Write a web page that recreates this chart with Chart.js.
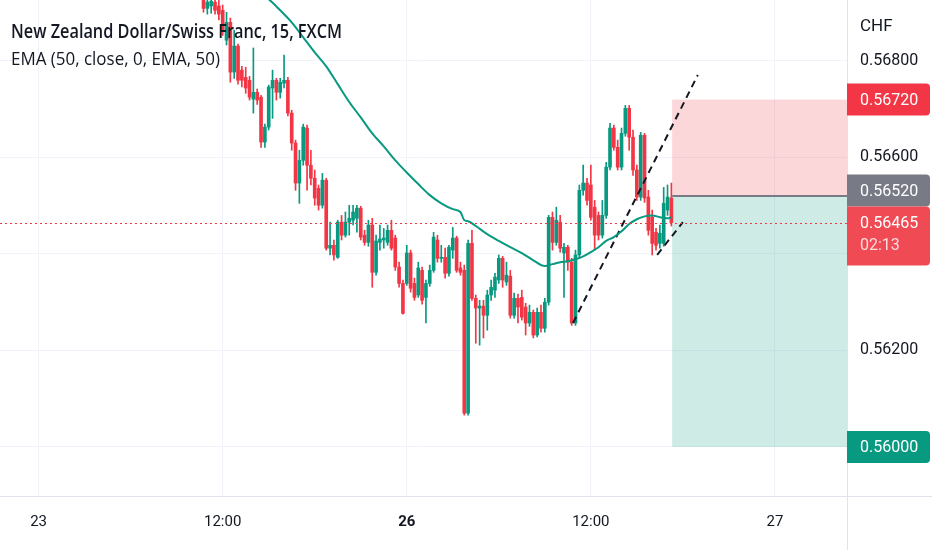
<!DOCTYPE html>
<html>
<head>
<meta charset="utf-8">
<script src="https://cdn.jsdelivr.net/npm/chart.js@4.4.1/dist/chart.umd.min.js"></script>
<style>
  html, body { margin: 0; padding: 0; background: #fff; }
  #wrap { position: relative; width: 932px; height: 550px; overflow: hidden; }
  #nzdchf { position: absolute; left: 0; top: 0; }
  .legend { position: absolute; white-space: nowrap; color: #131722; transform-origin: 0 0; pointer-events: none; }
  .title { left: 11px; top: 21px; font: 600 20px/20px "Open Sans", sans-serif; }
  .ema { left: 11px; top: 48px; font: 400 19px/20px "Open Sans", sans-serif; }
  .ccy { left: 860px; top: 15px; font: 400 17px/20px Roboto, sans-serif; }
</style>
</head>
<body>
<div id="wrap">
  <canvas id="nzdchf" width="932" height="550" style="width:932px;height:550px"></canvas>
  <div class="legend title" data-fit="331">New Zealand Dollar/Swiss Franc, 15, FXCM</div>
  <div class="legend ema" data-fit="209">EMA (50, close, 0, EMA, 50)</div>
  <div class="legend ccy">CHF</div>
</div>
<script>
// 15 min candles, bar index 0 = "23" 00:00
const firstBar = 43;

const opens = [
  0.56926, 0.56909, 0.56914, 0.56922, 0.56914, 0.56905, 0.56843, 0.56880, 0.56777, 0.56831,
  0.56781, 0.56766, 0.56760, 0.56721, 0.56735, 0.56725, 0.56632, 0.56663, 0.56744, 0.56760,
  0.56735, 0.56754, 0.56760, 0.56692, 0.56630, 0.56547, 0.56594, 0.56661, 0.56584, 0.56557,
  0.56536, 0.56501, 0.56553, 0.56412, 0.56418, 0.56393, 0.56466, 0.56439, 0.56466, 0.56470,
  0.56474, 0.56495, 0.56439, 0.56424, 0.56460, 0.56362, 0.56424, 0.56429, 0.56424, 0.56449,
  0.56433, 0.56373, 0.56339, 0.56339, 0.56402, 0.56339, 0.56315, 0.56366, 0.56310, 0.56339,
  0.56366, 0.56429, 0.56391, 0.56393, 0.56360, 0.56408, 0.56433, 0.56371, 0.56366, 0.56070,
  0.56422, 0.56308, 0.56288, 0.56292, 0.56273, 0.56315, 0.56325, 0.56346, 0.56391, 0.56342,
  0.56354, 0.56273, 0.56308, 0.56310, 0.56290, 0.56257, 0.56279, 0.56232, 0.56279, 0.56246,
  0.56300, 0.56476, 0.56424, 0.56466, 0.56402, 0.56414, 0.56383, 0.56257, 0.56398, 0.56532,
  0.56547, 0.56543, 0.56497, 0.56480, 0.56439, 0.56480, 0.56580, 0.56661, 0.56621, 0.56580,
  0.56650, 0.56702, 0.56642, 0.56574, 0.56518, 0.56646, 0.56518, 0.56476, 0.56445, 0.56422,
  0.56422, 0.56491, 0.56516
];
const highs = [
  0.56934, 0.56930, 0.56932, 0.56930, 0.56926, 0.56916, 0.56901, 0.56889, 0.56864, 0.56835,
  0.56789, 0.56787, 0.56768, 0.56827, 0.56742, 0.56729, 0.56669, 0.56750, 0.56781, 0.56764,
  0.56764, 0.56812, 0.56766, 0.56698, 0.56636, 0.56615, 0.56669, 0.56667, 0.56615, 0.56574,
  0.56543, 0.56567, 0.56557, 0.56466, 0.56429, 0.56470, 0.56480, 0.56487, 0.56501, 0.56501,
  0.56501, 0.56499, 0.56449, 0.56470, 0.56474, 0.56439, 0.56460, 0.56453, 0.56460, 0.56470,
  0.56439, 0.56383, 0.56346, 0.56418, 0.56408, 0.56350, 0.56383, 0.56373, 0.56346, 0.56377,
  0.56445, 0.56439, 0.56418, 0.56412, 0.56418, 0.56455, 0.56437, 0.56383, 0.56377, 0.56429,
  0.56449, 0.56315, 0.56304, 0.56304, 0.56325, 0.56346, 0.56360, 0.56398, 0.56395, 0.56383,
  0.56366, 0.56319, 0.56317, 0.56325, 0.56298, 0.56294, 0.56284, 0.56288, 0.56294, 0.56308,
  0.56480, 0.56487, 0.56497, 0.56480, 0.56422, 0.56418, 0.56391, 0.56408, 0.56543, 0.56584,
  0.56557, 0.56584, 0.56511, 0.56487, 0.56511, 0.56590, 0.56671, 0.56667, 0.56636, 0.56661,
  0.56708, 0.56708, 0.56657, 0.56584, 0.56652, 0.56650, 0.56532, 0.56491, 0.56453, 0.56460,
  0.56538, 0.56543, 0.56547
];
const lows = [
  0.56901, 0.56897, 0.56899, 0.56897, 0.56885, 0.56853, 0.56833, 0.56756, 0.56764, 0.56752,
  0.56746, 0.56733, 0.56719, 0.56692, 0.56710, 0.56621, 0.56621, 0.56657, 0.56681, 0.56719,
  0.56723, 0.56744, 0.56686, 0.56615, 0.56532, 0.56505, 0.56584, 0.56532, 0.56543, 0.56501,
  0.56491, 0.56495, 0.56408, 0.56398, 0.56387, 0.56391, 0.56429, 0.56435, 0.56439, 0.56460,
  0.56445, 0.56429, 0.56418, 0.56416, 0.56331, 0.56356, 0.56408, 0.56412, 0.56418, 0.56408,
  0.56366, 0.56331, 0.56275, 0.56335, 0.56321, 0.56304, 0.56310, 0.56296, 0.56257, 0.56333,
  0.56362, 0.56383, 0.56383, 0.56350, 0.56354, 0.56391, 0.56362, 0.56356, 0.56066, 0.56066,
  0.56304, 0.56215, 0.56211, 0.56226, 0.56242, 0.56304, 0.56310, 0.56339, 0.56331, 0.56335,
  0.56267, 0.56267, 0.56257, 0.56263, 0.56232, 0.56250, 0.56226, 0.56228, 0.56238, 0.56238,
  0.56294, 0.56408, 0.56418, 0.56404, 0.56310, 0.56366, 0.56252, 0.56252, 0.56391, 0.56522,
  0.56501, 0.56470, 0.56408, 0.56429, 0.56433, 0.56474, 0.56574, 0.56615, 0.56574, 0.56574,
  0.56644, 0.56615, 0.56563, 0.56511, 0.56511, 0.56507, 0.56439, 0.56398, 0.56408, 0.56412,
  0.56416, 0.56480, 0.56458
];
const closes = [
  0.56909, 0.56922, 0.56924, 0.56905, 0.56897, 0.56864, 0.56880, 0.56777, 0.56831, 0.56760,
  0.56760, 0.56744, 0.56725, 0.56735, 0.56719, 0.56632, 0.56663, 0.56746, 0.56760, 0.56735,
  0.56756, 0.56760, 0.56692, 0.56630, 0.56547, 0.56594, 0.56663, 0.56584, 0.56557, 0.56516,
  0.56501, 0.56553, 0.56412, 0.56418, 0.56398, 0.56466, 0.56439, 0.56466, 0.56474, 0.56487,
  0.56495, 0.56435, 0.56424, 0.56460, 0.56362, 0.56427, 0.56431, 0.56433, 0.56449, 0.56412,
  0.56373, 0.56339, 0.56277, 0.56402, 0.56329, 0.56310, 0.56371, 0.56304, 0.56339, 0.56366,
  0.56435, 0.56391, 0.56393, 0.56360, 0.56414, 0.56433, 0.56366, 0.56362, 0.56070, 0.56422,
  0.56308, 0.56288, 0.56292, 0.56273, 0.56315, 0.56331, 0.56352, 0.56391, 0.56346, 0.56356,
  0.56273, 0.56308, 0.56290, 0.56269, 0.56257, 0.56279, 0.56232, 0.56279, 0.56246, 0.56300,
  0.56476, 0.56424, 0.56470, 0.56412, 0.56414, 0.56383, 0.56257, 0.56398, 0.56532, 0.56547,
  0.56511, 0.56476, 0.56439, 0.56439, 0.56480, 0.56580, 0.56661, 0.56621, 0.56580, 0.56650,
  0.56702, 0.56642, 0.56574, 0.56518, 0.56646, 0.56516, 0.56449, 0.56422, 0.56418, 0.56443,
  0.56505, 0.56518, 0.56465
];

// EMA 50
const emaBars = [57, 60, 63, 66, 69, 72, 75, 78, 81, 84, 87, 90, 93, 96, 99, 102, 105, 108,
  110, 111, 112, 114, 117, 120, 123, 126, 129, 132, 134, 136, 138, 140, 142, 144, 146, 148,
  150, 152, 154, 156, 158, 160, 162, 164, 165];
const emaValues = [0.56943, 0.56928, 0.56905, 0.56880, 0.56849, 0.56818, 0.56789, 0.56752,
  0.56715, 0.56683, 0.56650, 0.56623, 0.56594, 0.56569, 0.56545, 0.56522, 0.56505, 0.56493,
  0.56487, 0.56470, 0.56468, 0.56458, 0.56441, 0.56427, 0.56414, 0.56402, 0.56387, 0.56375,
  0.56379, 0.56383, 0.56385, 0.56389, 0.56395, 0.56404, 0.56414, 0.56427, 0.56435, 0.56447,
  0.56462, 0.56472, 0.56478, 0.56480, 0.56476, 0.56474, 0.56476];

// drawn trend lines
const trendUpBars = [139.35, 171.9];
const trendUpPrices = [0.56257, 0.56771];
const trendLowBars = [161.3, 168.0];
const trendLowPrices = [0.56398, 0.56466];

// short position tool
const positionStartBar = 165.2;
const positionEndBar = 215;
const positionStop = 0.5672;
const positionEntry = 0.5652;
const positionTarget = 0.5600;
const lastPrice = 0.56465;
const countdown = "02:13";

const timeTicks = [0, 48, 96, 144, 192];
const timeLabels = ["23", "12:00", "26", "12:00", "27"];
const priceTicks = [0.560, 0.562, 0.564, 0.566, 0.568];

const UP = "#089981";
const DOWN = "#f23645";
const FONT = "Roboto, sans-serif";

const candleColor = closes.map((c, k) => (c >= opens[k] ? UP : DOWN));
const wickData = lows.map((l, k) => ({ x: firstBar + k, y: [l, highs[k]] }));
const bodyData = opens.map((o, k) => ({ x: firstBar + k, y: [o, closes[k]] }));
const emaData = emaBars.map((b, k) => ({ x: b, y: emaValues[k] }));
const trendUp = trendUpBars.map((b, k) => ({ x: b, y: trendUpPrices[k] }));
const trendLow = trendLowBars.map((b, k) => ({ x: b, y: trendLowPrices[k] }));

function tag(ctx, left, top, w, h, color) {
  ctx.fillStyle = color;
  ctx.beginPath();
  ctx.roundRect(left, top, w, h, [0, 4, 4, 0]);
  ctx.fill();
}

const overlay = {
  id: "overlay",
  beforeDatasetsDraw(chart) {
    const { ctx, chartArea: a, scales: { x, y } } = chart;
    const l = x.getPixelForValue(positionStartBar);
    const r = x.getPixelForValue(positionEndBar);
    const ys = y.getPixelForValue(positionStop);
    const ye = y.getPixelForValue(positionEntry);
    const yt = y.getPixelForValue(positionTarget);
    ctx.save();
    ctx.beginPath();
    ctx.rect(a.left, a.top, a.right - a.left, a.bottom - a.top);
    ctx.clip();
    ctx.fillStyle = "rgba(242,54,69,0.2)";
    ctx.fillRect(l, ys, r - l, ye - ys);
    ctx.fillStyle = "rgba(8,153,129,0.2)";
    ctx.fillRect(l, ye, r - l, yt - ye);
    ctx.restore();
  },
  afterDatasetsDraw(chart) {
    const { ctx, chartArea: a, scales: { x, y } } = chart;
    const l = x.getPixelForValue(positionStartBar);
    const ye = y.getPixelForValue(positionEntry);
    const yp = Math.round(y.getPixelForValue(lastPrice)) + 0.5;
    ctx.save();
    ctx.strokeStyle = "#787b86";
    ctx.lineWidth = 2;
    ctx.beginPath();
    ctx.moveTo(l, ye);
    ctx.lineTo(a.right, ye);
    ctx.stroke();
    ctx.strokeStyle = DOWN;
    ctx.lineWidth = 1;
    ctx.setLineDash([2, 3]);
    ctx.beginPath();
    ctx.moveTo(a.left, yp);
    ctx.lineTo(a.right, yp);
    ctx.stroke();
    ctx.restore();
  },
  afterDraw(chart) {
    const { ctx, chartArea: a, scales: { y }, width, height } = chart;
    ctx.save();
    ctx.strokeStyle = "#e0e3eb";
    ctx.lineWidth = 1;
    ctx.beginPath();
    ctx.moveTo(a.right + 0.5, 0);
    ctx.lineTo(a.right + 0.5, height);
    ctx.moveTo(0, a.bottom + 0.5);
    ctx.lineTo(width, a.bottom + 0.5);
    ctx.stroke();

    const tl = a.right;
    const tw = width - 2 - a.right;
    const th = 32;
    const tx = a.right + 13;
    ctx.font = "16px " + FONT;
    ctx.textBaseline = "middle";
    ctx.textAlign = "left";

    const yLast = y.getPixelForValue(lastPrice);
    const lastTop = yLast - th / 2;
    const lastH = th + 27;

    const yStop = y.getPixelForValue(positionStop);
    tag(ctx, tl, yStop - th / 2, tw, th, DOWN);
    ctx.fillStyle = "#fff";
    ctx.fillText(positionStop.toFixed(5), tx, yStop + 1);

    const yEntry = y.getPixelForValue(positionEntry);
    const entryBottom = Math.min(yEntry + th / 2, lastTop);
    tag(ctx, tl, entryBottom - th, tw, th, "#787b86");
    ctx.fillStyle = "#fff";
    ctx.fillText(positionEntry.toFixed(5), tx, entryBottom - th / 2 + 1);

    tag(ctx, tl, lastTop, tw, lastH, "#f04b55");
    ctx.fillStyle = "#fff";
    ctx.fillText(lastPrice.toFixed(5), tx, yLast + 1);
    ctx.fillStyle = "rgba(255,255,255,0.8)";
    ctx.fillText(countdown, tx, yLast + 23);

    const yTarget = y.getPixelForValue(positionTarget);
    tag(ctx, tl, yTarget - th / 2, tw, th, UP);
    ctx.fillStyle = "#fff";
    ctx.fillText(positionTarget.toFixed(5), tx, yTarget + 1);
    ctx.restore();
  }
};

const chart = new Chart(document.getElementById("nzdchf"), {
  type: "bar",
  data: {
    datasets: [
      {
        type: "line",
        data: emaData,
        borderColor: "#089981",
        borderWidth: 2,
        pointRadius: 0,
        tension: 0.4,
        cubicInterpolationMode: "monotone",
        order: 0,
      },
      {
        type: "line",
        data: trendUp,
        borderColor: "#131722",
        borderWidth: 2,
        borderDash: [7, 5],
        pointRadius: 0,
        order: 0,
      },
      {
        type: "line",
        data: trendLow,
        borderColor: "#131722",
        borderWidth: 2,
        borderDash: [7, 5],
        pointRadius: 0,
        order: 0,
      },
      {
        data: bodyData,
        backgroundColor: candleColor,
        barThickness: 3,
        minBarLength: 1,
        grouped: false,
        order: 1,
      },
      {
        data: wickData,
        backgroundColor: candleColor,
        barThickness: 1,
        grouped: false,
        order: 2,
      },
    ],
  },
  options: {
    responsive: false,
    animation: false,
    events: [],
    layout: { padding: 0 },
    plugins: {
      legend: { display: false },
      tooltip: { enabled: false },
    },
    scales: {
      x: {
        type: "linear",
        min: -10.07,
        max: 210.8,
        offset: false,
        grid: { color: "#f0f3fa", offset: false, drawTicks: false },
        border: { display: false },
        afterBuildTicks: (s) => {
          s.ticks = timeTicks.map((v) => ({ value: v }));
        },
        afterFit: (s) => {
          s.height = 54;
          s.paddingLeft = 0;
          s.paddingRight = 0;
        },
        ticks: {
          autoSkip: false,
          maxRotation: 0,
          padding: 17,
          color: "#131722",
          font: (c) => ({
            family: FONT,
            size: 15,
            weight: c.tick && c.tick.value === 96 ? "bold" : "normal",
          }),
          callback: (v, i) => timeLabels[i],
        },
      },
      y: {
        type: "linear",
        position: "right",
        min: 0.558984,
        max: 0.569264,
        beginAtZero: false,
        grid: { color: "#f0f3fa", drawTicks: false },
        border: { display: false },
        afterBuildTicks: (s) => {
          s.ticks = priceTicks.map((v) => ({ value: v }));
        },
        afterFit: (s) => {
          s.width = 85;
          s.paddingTop = 0;
          s.paddingBottom = 0;
        },
        ticks: {
          padding: 13,
          crossAlign: "near",
          color: "#131722",
          font: { family: FONT, size: 16 },
          callback: (v) => Number(v).toFixed(5),
        },
      },
    },
  },
  plugins: [overlay],
});

document.querySelectorAll("[data-fit]").forEach((el) => {
  const w = el.getBoundingClientRect().width;
  el.style.transform = "scaleX(" + Number(el.dataset.fit) / w + ")";
});
</script>
</body>
</html>
